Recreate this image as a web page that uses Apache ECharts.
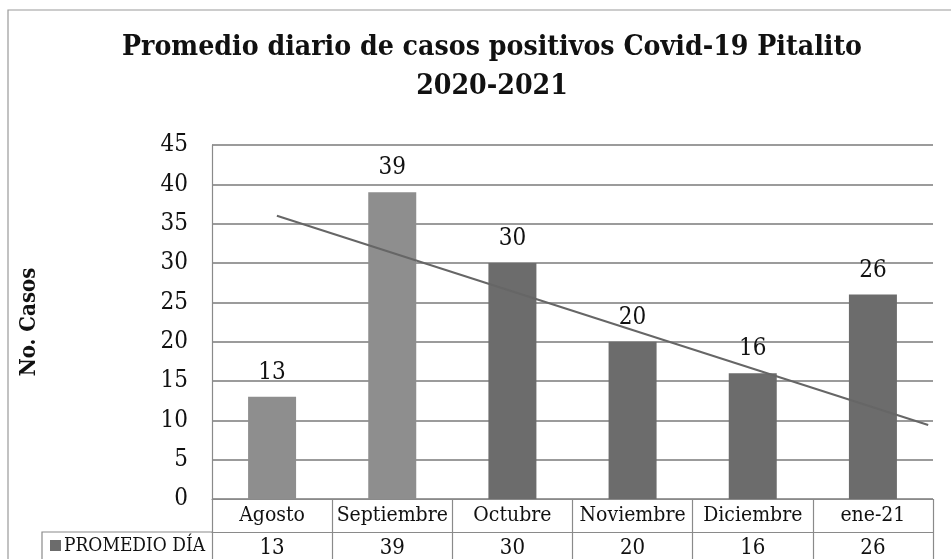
<!DOCTYPE html>
<html>
<head>
<meta charset="utf-8">
<script src="https://cdn.jsdelivr.net/npm/echarts@6/dist/echarts.min.js"></script>
<style>
html,body{margin:0;padding:0;background:#fff;}
#chart{width:951px;height:559px;}
</style>
</head>
<body>
<div id="chart"></div>
<script>
const titleText = 'Promedio diario de casos positivos Covid-19 Pitalito\n2020-2021';
const categories = ['Agosto', 'Septiembre', 'Octubre', 'Noviembre', 'Diciembre', 'ene-21'];
const values = [13, 39, 30, 20, 16, 26];
const seriesName = 'PROMEDIO DÍA';
const yAxisName = 'No. Casos';
const yTicks = { min: 0, max: 45, interval: 5 };
const trendX = [0.04, 5.46];
const trendY = [36.0, 9.4];

const FONT = 'DejaVu Serif Condensed, DejaVu Serif, serif';
const lightBar = '#8e8e8e';
const darkBar = '#6c6c6c';
const lineCol = '#8a8a8a';

const chart = echarts.init(document.getElementById('chart'));
chart.setOption({
  backgroundColor: '#fff',
  animation: false,
  textStyle: { fontFamily: FONT },
  title: {
    text: titleText,
    left: 487,
    textAlign: 'center',
    top: 23,
    textStyle: { fontFamily: FONT, fontSize: 28.2, fontWeight: 'bold', color: '#111', lineHeight: 39 }
  },
  grid: { left: 212, right: 18, top: 145, bottom: 60, containLabel: false },
  xAxis: [
    {
      type: 'category',
      data: categories,
      position: 'bottom',
      axisLine: { show: true, lineStyle: { color: lineCol, width: 1.2 } },
      axisTick: { show: true, length: 61, interval: 0, lineStyle: { color: lineCol, width: 1.2 } },
      axisLabel: { margin: 6, fontSize: 21, color: '#111', fontFamily: FONT, interval: 0 },
      splitLine: { show: false }
    },
    {
      type: 'category',
      data: values.map(String),
      position: 'bottom',
      offset: 33,
      axisLine: { show: true, lineStyle: { color: lineCol, width: 1.2 } },
      axisTick: { show: false },
      axisLabel: { margin: 5, fontSize: 22, color: '#111', fontFamily: FONT, interval: 0 },
      splitLine: { show: false }
    },
    {
      type: 'value',
      min: -0.5,
      max: 5.5,
      show: false
    }
  ],
  yAxis: {
    type: 'value',
    min: yTicks.min,
    max: yTicks.max,
    interval: yTicks.interval,
    name: yAxisName,
    nameLocation: 'middle',
    nameGap: 172,
    nameRotate: 90,
    nameTextStyle: { fontSize: 22, fontWeight: 'bold', color: '#111', fontFamily: FONT },
    axisLine: { show: true, onZero: false, lineStyle: { color: lineCol, width: 1.2 } },
    axisTick: { show: false },
    axisLabel: { margin: 24, fontSize: 24, color: '#111', fontFamily: FONT },
    splitLine: { show: true, lineStyle: { color: '#7a7a7a', width: 1.5 } }
  },
  series: [
    {
      name: seriesName,
      type: 'bar',
      xAxisIndex: 0,
      data: values,
      barWidth: 48,
      itemStyle: { color: (p) => (p.dataIndex < 2 ? lightBar : darkBar) },
      label: { show: true, position: 'top', distance: 12, fontSize: 24, color: '#111', fontFamily: FONT }
    },
    {
      name: 'Tendencia',
      type: 'line',
      xAxisIndex: 2,
      data: trendX.map((x, i) => [x, trendY[i]]),
      symbol: 'none',
      silent: true,
      lineStyle: { color: '#666', width: 2 },
      z: 5
    }
  ],
  graphic: [
    {
      type: 'rect',
      shape: { x: 8, y: 10, width: 960, height: 600 },
      style: { fill: 'none', stroke: '#9a9a9a', lineWidth: 1.2 },
      silent: true, z: -1
    },
    {
      type: 'polyline',
      shape: { points: [[42, 559], [42, 532], [212, 532]] },
      style: { fill: 'none', stroke: lineCol, lineWidth: 1.2 },
      silent: true
    },
    {
      type: 'rect',
      shape: { x: 50, y: 540, width: 11, height: 11 },
      style: { fill: darkBar },
      silent: true
    },
    {
      type: 'text',
      style: { text: seriesName, x: 64, y: 546, verticalAlign: 'middle', font: '19px ' + FONT, fill: '#111' },
      silent: true
    }
  ]
});
</script>
</body>
</html>
